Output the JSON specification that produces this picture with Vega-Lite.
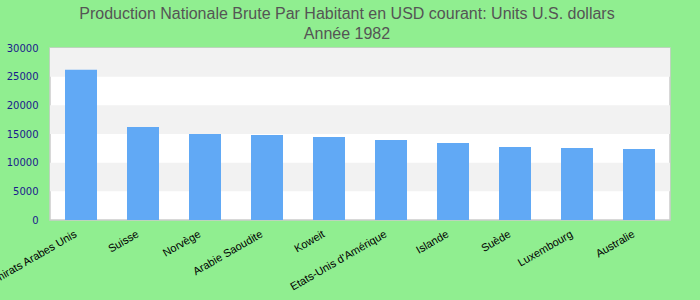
{
  "$schema": "https://vega.github.io/schema/vega-lite/v6.json",
  "width": 620,
  "height": 172,
  "autosize": {"type": "none"},
  "padding": {"left": 50, "top": 48, "right": 30, "bottom": 80},
  "background": "#90ee90",
  "title": {
    "text": ["Production Nationale Brute Par Habitant en USD courant: Units U.S. dollars", "Année 1982"],
    "font": "Liberation Sans",
    "fontSize": 16,
    "fontWeight": "normal",
    "color": "#555555",
    "lineHeight": 20,
    "offset": 1,
    "dx": -13
  },
  "config": {
    "view": {"stroke": "#cccccc", "strokeWidth": 1.5, "fill": "#ffffff"}
  },
  "datasets": {
    "bars": [
      {"pays": "Emirats Arabes Unis", "valeur": 26200},
      {"pays": "Suisse", "valeur": 16220},
      {"pays": "Norvège", "valeur": 15000},
      {"pays": "Arabie Saoudite", "valeur": 14830},
      {"pays": "Koweit", "valeur": 14480},
      {"pays": "Etats-Unis d'Amérique", "valeur": 13950},
      {"pays": "Islande", "valeur": 13430},
      {"pays": "Suède", "valeur": 12730},
      {"pays": "Luxembourg", "valeur": 12560},
      {"pays": "Australie", "valeur": 12380}
    ],
    "bands": [
      {"y0": 5000, "y1": 10000},
      {"y0": 15000, "y1": 20000},
      {"y0": 25000, "y1": 30000}
    ]
  },
  "layer": [
    {
      "data": {"name": "bands"},
      "mark": {"type": "rect", "color": "#f2f2f2"},
      "encoding": {
        "y": {
          "field": "y0",
          "type": "quantitative",
          "scale": {"domain": [0, 30000]},
          "axis": {
            "title": null,
            "values": [0, 5000, 10000, 15000, 20000, 25000, 30000],
            "format": "d",
            "labelFont": "DejaVu Sans",
            "labelFontSize": 10,
            "labelColor": "#1a1a8c",
            "labelOverlap": false,
            "ticks": false,
            "domain": false,
            "grid": false,
            "labelPadding": 12
          }
        },
        "y2": {"field": "y1"}
      }
    },
    {
      "data": {"name": "bars"},
      "mark": {"type": "bar", "color": "#61a9f5", "size": 32},
      "encoding": {
        "x": {
          "field": "pays",
          "type": "nominal",
          "sort": null,
          "axis": {
            "title": null,
            "labelAngle": -30,
            "labelFont": "Liberation Sans",
            "labelFontSize": 11,
            "labelColor": "#000000",
            "ticks": false,
            "domain": false,
            "labelPadding": 8,
            "labelOffset": -8,
            "labelOverlap": false,
            "labelLimit": 200
          }
        },
        "y": {
          "field": "valeur",
          "type": "quantitative",
          "scale": {"domain": [0, 30000]},
          "axis": {
            "title": null,
            "values": [0, 5000, 10000, 15000, 20000, 25000, 30000],
            "format": "d",
            "labelFont": "DejaVu Sans",
            "labelFontSize": 10,
            "labelColor": "#1a1a8c",
            "labelOverlap": false,
            "ticks": false,
            "domain": false,
            "grid": false,
            "labelPadding": 12
          }
        }
      }
    }
  ]
}
